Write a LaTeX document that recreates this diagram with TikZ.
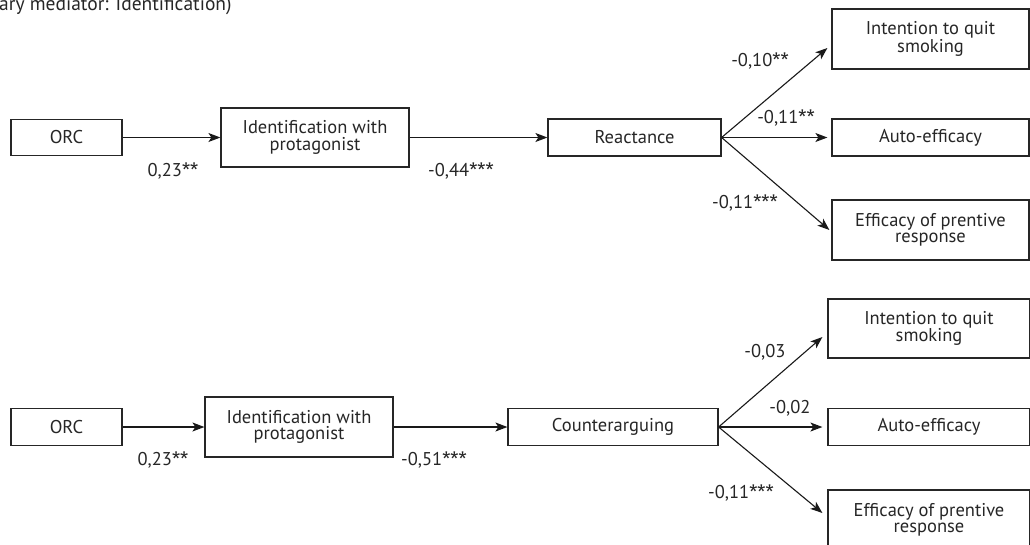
\documentclass[tikz,border=0pt]{standalone}
\usepackage{fontspec}
\setmainfont{PT Sans}
\newfontfamily\astfont{Fira Sans}
\newcommand{\sig}[1]{{\astfont #1}}
\usetikzlibrary{arrows.meta,calc}
\tikzset{
  box/.style={draw=black!85, line width=1.2pt, rectangle, inner sep=0pt, align=center,
    font=\fontsize{18.5}{16.5}\selectfont, text=black!85},
  path/.style={draw=black!90, line width=1.1pt, -{Stealth[length=12pt,width=9pt,inset=3pt]}},
  coef/.style={font=\fontsize{18.5}{18}\selectfont, text=black!85, inner sep=0pt}
}
\begin{document}
\begin{tikzpicture}[x=1pt,y=-1pt]
\useasboundingbox (0,0) rectangle (1030,544);
% heading line, partly outside the page
\node[coef, font=\fontsize{19.5}{19}\selectfont, anchor=base west] (head) at (-1,10) {ary mediator: Identification)};

% ---- model with reactance as second mediator ----
\node[box, minimum width=111pt, minimum height=36pt] (orc1) at (66.5,137.5) {ORC};
\node[box, minimum width=188pt, minimum height=59pt] (id1) at (315,137.5) {Identification with\\protagonist};
\node[box, minimum width=173pt, minimum height=37pt] (re1) at (634.5,137.5) {Reactance};
\node[box, minimum width=197pt, minimum height=60pt] (q1) at (930.5,39) {Intention to quit\\smoking};
\node[box, minimum width=197pt, minimum height=37pt] (a1) at (930.5,137.5) {Auto-efficacy};
\node[box, minimum width=197pt, minimum height=60pt] (e1) at (930.5,230) {Efficacy of prentive\\response};

\draw[path] (orc1.east) -- (id1.west);
\draw[path] (id1.east) -- (re1.west);
\draw[path] (re1.east) -- ([shift={(-4,9)}]q1.west);
\draw[path] (re1.east) -- ([xshift=-4]a1.west);
\draw[path] (re1.east) -- ([xshift=-2]e1.west);

\node[coef] (c11) at (173,171) {0,23\sig{**}};
\node[coef] (c12) at (461,171) {-0,44\sig{***}};
\node[coef] (c13) at (760,61) {-0,10\sig{**}};
\node[coef] (c14) at (786,118) {-0,11\sig{**}};
\node[coef] (c15) at (745,203) {-0,11\sig{***}};

% ---- model with counterarguing as second mediator ----
\node[box, minimum width=111pt, minimum height=37pt] (orc2) at (66.5,427) {ORC};
\node[box, minimum width=188pt, minimum height=60pt] (id2) at (299,427) {Identification with\\protagonist};
\node[box, minimum width=210pt, minimum height=37pt] (ca2) at (613,427) {Counterarguing};
\node[box, minimum width=202pt, minimum height=59pt] (q2) at (929,328.5) {Intention to quit\\smoking};
\node[box, minimum width=202pt, minimum height=37pt] (a2) at (929,427) {Auto-efficacy};
\node[box, minimum width=202pt, minimum height=60pt] (e2) at (929,520) {Efficacy of prentive\\response};

\draw[path] (orc2.east) -- (id2.west);
\draw[path] (id2.east) -- (ca2.west);
\draw[path] (ca2.east) -- ([shift={(-5,8.5)}]q2.west);
\draw[path] (ca2.east) -- ([xshift=-5]a2.west);
\draw[path] (ca2.east) -- ([shift={(-5,-7)}]e2.west);

\node[coef] (c21) at (163,460) {0,23\sig{**}};
\node[coef] (c22) at (434,460) {-0,51\sig{***}};
\node[coef] (c23) at (765,352) {-0,03};
\node[coef] (c24) at (790,408) {-0,02};
\node[coef] (c25) at (741,493) {-0,11\sig{***}};
\end{tikzpicture}
\end{document}
